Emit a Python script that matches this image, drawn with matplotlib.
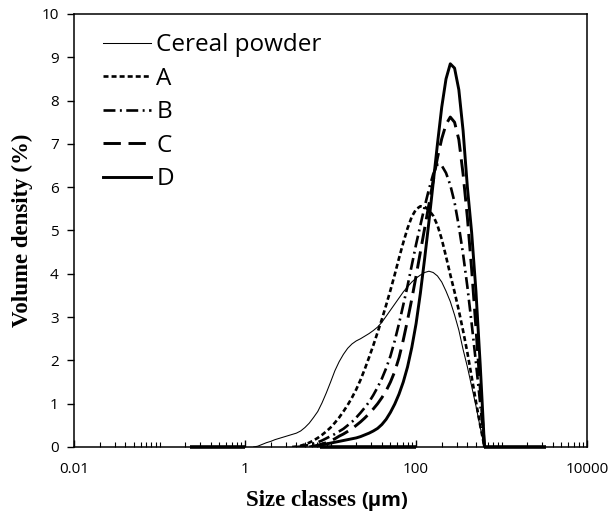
import matplotlib
matplotlib.use("Agg")
import matplotlib.pyplot as plt
from matplotlib.ticker import LogLocator, FixedLocator, FixedFormatter, NullFormatter
import numpy as np

plt.rcParams['lines.scale_dashes'] = False

# ---------------- data ----------------
# laser-diffraction size classes (µm)
size_classes = [1.125, 1.262, 1.416, 1.589, 1.783, 2.000, 2.244, 2.518, 2.825, 3.170,
                3.557, 3.991, 4.477, 5.024, 5.637, 6.325, 7.096, 7.962, 8.934, 10.024,
                11.247, 12.619, 14.159, 15.887, 17.825, 20.000, 22.440, 25.179, 28.251, 31.698,
                35.566, 39.905, 44.774, 50.238, 56.368, 63.246, 70.963, 79.621, 89.337, 100.237,
                112.468, 126.191, 141.589, 158.866, 178.250, 200.000, 224.404, 251.785, 282.508, 316.979,
                355.656, 399.052, 447.744, 502.377, 563.677, 632.456]

# volume density (%) per class
cereal = [0.00, 0.00, 0.02, 0.06, 0.10, 0.13, 0.17, 0.20, 0.23, 0.26,
          0.29, 0.32, 0.37, 0.45, 0.55, 0.68, 0.82, 1.02, 1.25, 1.50,
          1.76, 1.97, 2.14, 2.28, 2.38, 2.45, 2.50, 2.56, 2.62, 2.69,
          2.77, 2.88, 3.02, 3.16, 3.30, 3.44, 3.58, 3.70, 3.81, 3.90,
          3.97, 4.03, 4.06, 4.03, 3.95, 3.81, 3.60, 3.36, 3.05, 2.70,
          2.25, 1.85, 1.40, 0.95, 0.45, 0.00]

sample_a = [0.00, 0.00, 0.00, 0.00, 0.00, 0.00, 0.00, 0.00, 0.00, 0.00,
            0.00, 0.01, 0.03, 0.06, 0.10, 0.15, 0.21, 0.28, 0.36, 0.45,
            0.56, 0.68, 0.82, 0.97, 1.14, 1.33, 1.55, 1.80, 2.07, 2.35,
            2.65, 2.95, 3.28, 3.62, 3.98, 4.36, 4.72, 5.05, 5.32, 5.49,
            5.56, 5.55, 5.47, 5.34, 5.12, 4.80, 4.40, 3.98, 3.58, 3.15,
            2.68, 2.18, 1.62, 1.05, 0.50, 0.00]

sample_b = [0.00, 0.00, 0.00, 0.00, 0.00, 0.00, 0.00, 0.00, 0.00, 0.00,
            0.00, 0.00, 0.01, 0.03, 0.05, 0.08, 0.11, 0.15, 0.20, 0.25,
            0.30, 0.36, 0.42, 0.50, 0.58, 0.68, 0.79, 0.91, 1.04, 1.20,
            1.38, 1.58, 1.82, 2.10, 2.45, 2.85, 3.28, 3.72, 4.20, 4.68,
            5.12, 5.55, 5.95, 6.30, 6.52, 6.50, 6.33, 6.05, 5.65, 5.10,
            4.45, 3.70, 2.85, 1.95, 1.00, 0.00]

sample_c = [0.00, 0.00, 0.00, 0.00, 0.00, 0.00, 0.00, 0.00, 0.00, 0.00,
            0.00, 0.00, 0.00, 0.00, 0.00, 0.02, 0.04, 0.07, 0.10, 0.14,
            0.19, 0.25, 0.30, 0.36, 0.42, 0.50, 0.58, 0.67, 0.77, 0.88,
            1.00, 1.14, 1.30, 1.50, 1.74, 2.06, 2.47, 2.93, 3.42, 3.95,
            4.50, 5.05, 5.60, 6.15, 6.68, 7.12, 7.45, 7.62, 7.50, 7.10,
            6.30, 5.30, 4.10, 2.75, 1.35, 0.00]

sample_d = [0.00, 0.00, 0.00, 0.00, 0.00, 0.00, 0.00, 0.00, 0.00, 0.00,
            0.00, 0.00, 0.00, 0.00, 0.00, 0.00, 0.02, 0.05, 0.07, 0.09,
            0.11, 0.13, 0.15, 0.17, 0.19, 0.21, 0.24, 0.28, 0.32, 0.37,
            0.43, 0.52, 0.64, 0.80, 0.99, 1.22, 1.50, 1.85, 2.30, 2.85,
            3.55, 4.35, 5.20, 6.10, 7.00, 7.85, 8.50, 8.85, 8.75, 8.25,
            7.30, 6.00, 4.95, 3.60, 1.90, 0.00]

# zero-valued stretches drawn heavily on the baseline
base_x = [0.23, 1.0, np.nan, 7.6, 100, np.nan, 632.456, 3300]
base_y = [0, 0, np.nan, 0, 0, np.nan, 0, 0]

labels = ["Cereal powder", "A", "B", "C", "D"]
xtick_vals = [0.01, 1, 100, 10000]
xtick_labels = ["0.01", "1", "100", "10000"]
ytick_vals = list(range(0, 11))


def trim(xs, ys):
    # drop leading zeros except the last one, so each curve starts at its first class
    i = 0
    while i + 1 < len(ys) and ys[i + 1] == 0:
        i += 1
    return xs[i:], ys[i:]


# ---------------- figure ----------------
fig = plt.figure(figsize=(6.11, 5.19), dpi=100)
ax = fig.add_axes([74/611, 1-447/519, (587-74)/611, (447-14)/519])

styles = [
    dict(lw=0.75),
    dict(lw=1.9, dashes=(3.6, 2.2)),
    dict(lw=1.9, dashes=(8.6, 3.2, 1.4, 3.2)),
    dict(lw=2.1, dashes=(12.5, 5.5)),
    dict(lw=2.1),
]
for ys, lab, st in zip([cereal, sample_a, sample_b, sample_c, sample_d], labels, styles):
    xs_t, ys_t = trim(size_classes, ys)
    ax.plot(xs_t, ys_t, color="black", label=lab, **st)
ax.plot(base_x, base_y, color="black", lw=2.6, solid_capstyle="butt", clip_on=False)

ax.set_xscale("log")
ax.set_xlim(0.01, 10000)
ax.set_ylim(0, 10)

ax.xaxis.set_major_locator(FixedLocator(xtick_vals))
ax.xaxis.set_major_formatter(FixedFormatter(xtick_labels))
ax.xaxis.set_minor_locator(LogLocator(base=10, subs=np.arange(1, 10), numticks=20))
ax.xaxis.set_minor_formatter(NullFormatter())
ax.tick_params(axis="x", which="major", direction="in", length=5, width=1, pad=11)
ax.tick_params(axis="x", which="minor", direction="in", length=3.5, width=0.8)
ax.set_yticks(ytick_vals)
ax.tick_params(axis="y", which="major", direction="out", length=5, width=1, pad=6)

for lab in ax.get_xticklabels() + ax.get_yticklabels():
    lab.set_fontfamily("Open Sans")
    lab.set_fontsize(11)

for sp in ax.spines.values():
    sp.set_linewidth(1.1)

# x-axis title: serif words + sans unit
ax.text(0.549, -0.124, "Size classes", transform=ax.transAxes, ha="right", va="center",
        fontfamily="Liberation Serif", fontweight="bold", fontsize=16.5)
ax.text(0.560, -0.124, "(μm)", transform=ax.transAxes, ha="left", va="center",
        fontfamily="Open Sans", fontweight="bold", fontsize=14.5)
ax.set_ylabel("Volume density (%)", fontfamily="Liberation Serif", fontweight="bold",
              fontsize=16.5, labelpad=6)

leg = ax.legend(loc="upper left", frameon=False, prop={"family": "Open Sans", "size": 17.5},
                handlelength=2.0, handletextpad=0.2, labelspacing=0.39,
                borderaxespad=0.4, bbox_to_anchor=(0.018, 1.0))

fig.savefig("out.png", dpi=100)
